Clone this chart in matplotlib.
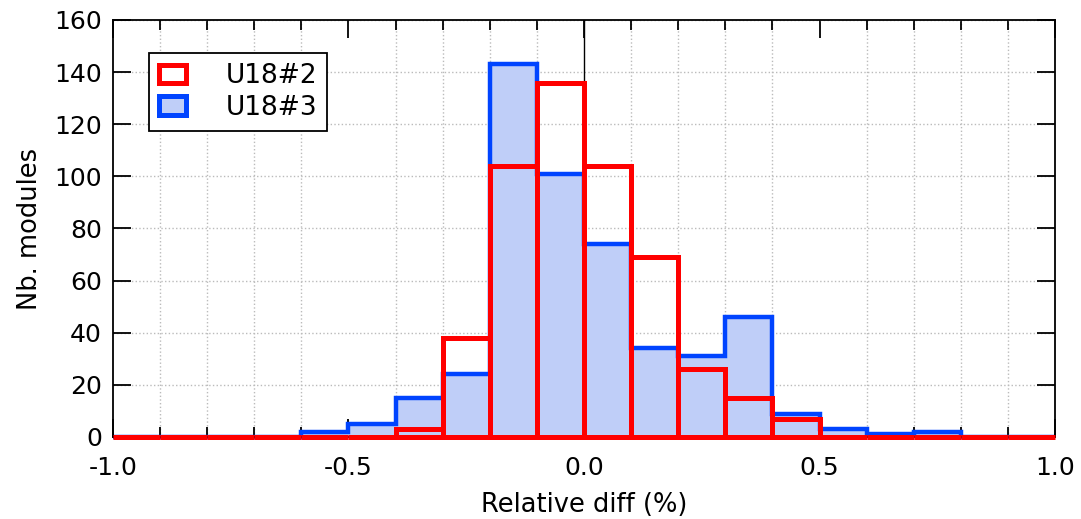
import numpy as np
from matplotlib import pyplot as plt
from matplotlib.patches import Patch
from matplotlib.ticker import MultipleLocator

# bin edges of the histogram (width 0.1)
edges = np.round(np.arange(-1.0, 1.0001, 0.1), 2)

# U18#2 counts per bin
u18_2 = [0, 0, 0, 0, 0, 0, 3, 38, 104, 136, 104, 69, 26, 15, 7, 0, 0, 0, 0, 0]
# U18#3 counts per bin
u18_3 = [0, 0, 0, 0, 2, 5, 15, 24, 143, 101, 74, 34, 31, 46, 9, 3, 1, 2, 0, 0]

red = "#ff0000"
blue = "#0044ff"
light_blue = "#bfcef8"

plt.rcParams["font.family"] = "DejaVu Sans"

fig = plt.figure(figsize=(10.81, 5.19), dpi=100)
ax = fig.add_axes([0.1045, 0.158, 0.8715, 0.8035])

# blue histogram: filled step outline
ax.stairs(u18_3, edges, fill=True, color=light_blue, zorder=2)
ax.stairs(u18_3, edges, color=blue, linewidth=3.2, zorder=3, clip_on=False)

# red histogram: outlined bars
centers = (edges[:-1] + edges[1:]) / 2
bars = ax.bar(centers, u18_2, width=0.1, fill=False, edgecolor=red,
              linewidth=3.6, zorder=6)
for b in bars:
    b.set_clip_on(False)

ax.axvline(0, color="black", linewidth=1.0, zorder=1.5)

ax.set_xlim(-1.0, 1.0)
ax.set_ylim(0, 160)
ax.xaxis.set_minor_locator(MultipleLocator(0.1))
ax.yaxis.set_major_locator(MultipleLocator(20))
ax.set_xticks([-1.0, -0.5, 0.0, 0.5, 1.0])
ax.set_xticklabels(["-1.0", "-0.5", "0.0", "0.5", "1.0"])

ax.tick_params(axis="both", which="major", direction="in", length=13, width=1.3,
               top=True, right=True, labelsize=18, colors="black")
ax.tick_params(axis="x", which="minor", direction="in", length=7, width=1.3,
               top=True, bottom=True)
ax.tick_params(axis="x", which="major", pad=14)
ax.tick_params(axis="y", which="major", pad=8)

ax.grid(True, which="minor", axis="x", linestyle=":", color="#bbbbbb", linewidth=1.0)
ax.grid(True, which="major", axis="y", linestyle=":", color="#bbbbbb", linewidth=1.0)
ax.set_axisbelow(True)

for s in ax.spines.values():
    s.set_linewidth(1.3)
    s.set_zorder(5)

ax.set_xlabel("Relative diff (%)", fontsize=18.5, labelpad=8)
ax.set_ylabel("Nb. modules", fontsize=18.5, labelpad=8)

handles = [
    Patch(facecolor="white", edgecolor=red, linewidth=3.6, label="U18#2"),
    Patch(facecolor=light_blue, edgecolor=blue, linewidth=3.6, label="U18#3"),
]
leg = ax.legend(handles=handles, loc="upper left", bbox_to_anchor=(0.038, 0.921),
                borderaxespad=0, fontsize=19, fancybox=False, framealpha=1,
                edgecolor="black", handlelength=1.0, handleheight=0.7,
                labelspacing=0.2, handletextpad=1.5, borderpad=0.4)
leg.get_frame().set_linewidth(1.3)

plt.savefig("out.png", dpi=100)
plt.close()
